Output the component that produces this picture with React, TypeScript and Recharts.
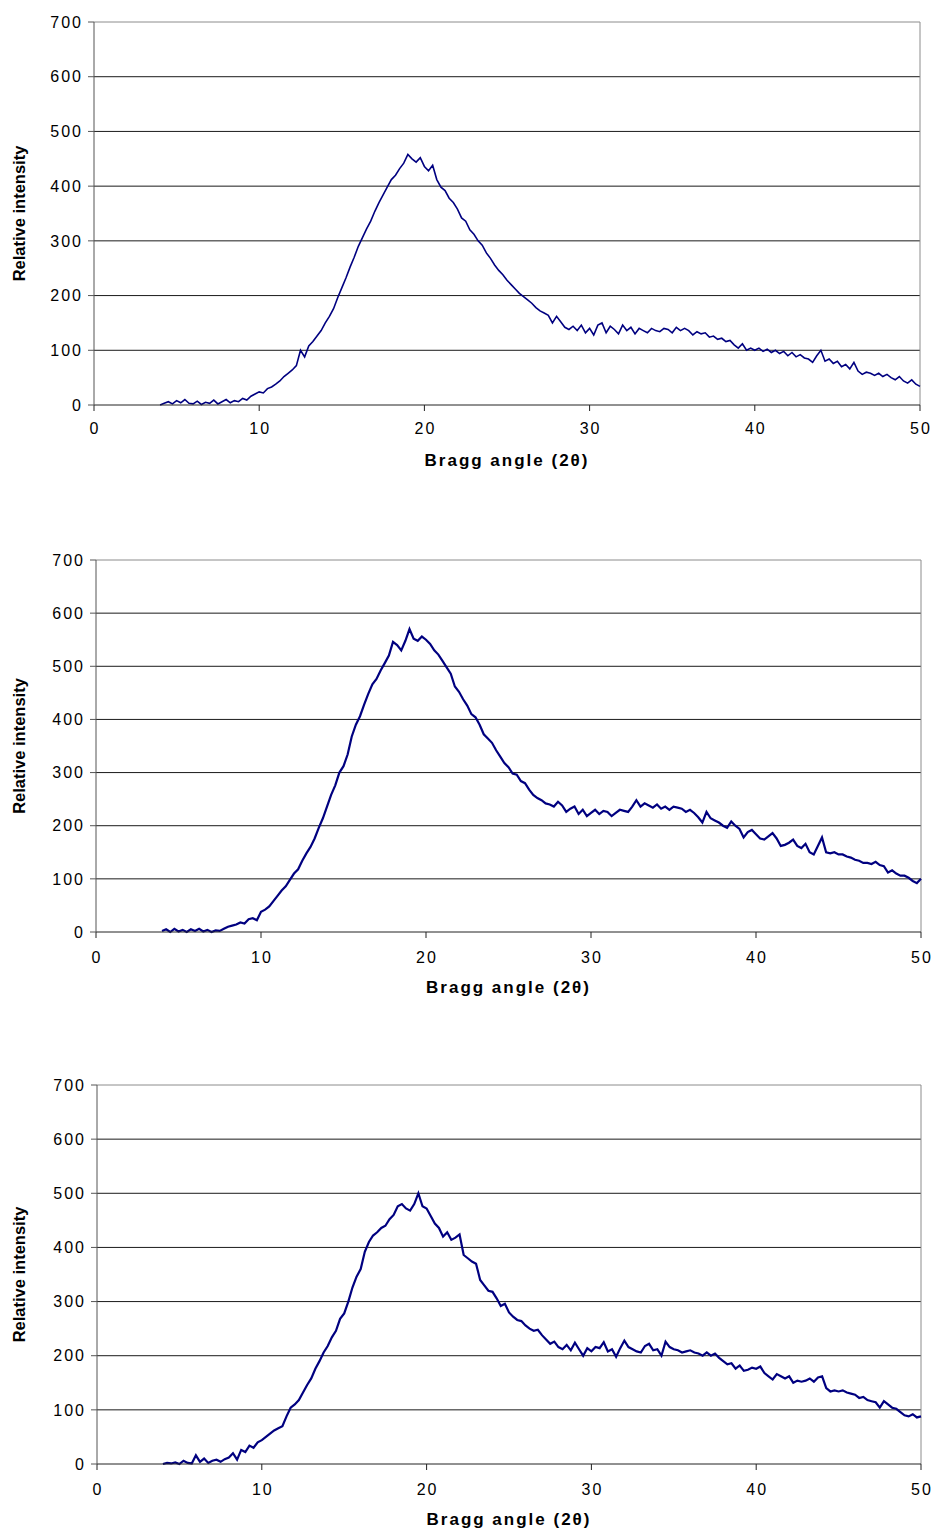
import { LineChart, Line, XAxis, YAxis, CartesianGrid, ReferenceLine } from "recharts";

// 2θ sampling grid, 4° to 50° every 0.25°
const angles = Array.from({ length: 185 }, (_, i) => 4 + i * 0.25);

const xTicks = [0, 10, 20, 30, 40, 50];
const yTicks = [0, 100, 200, 300, 400, 500, 600, 700];
const gridValues = [100, 200, 300, 400, 500, 600];

// intensities (one row per degree)
const intensityTop = [
  0, 3, 6, 2,
  8, 4, 10, 3,
  2, 7, 1, 5,
  3, 9, 2, 6,
  10, 4, 8, 6,
  12, 9, 16, 20,
  24, 22, 30, 33,
  38, 44, 52, 58,
  64, 72, 100, 88,
  108, 116, 126, 136,
  150, 162, 176, 196,
  214, 232, 252, 270,
  290, 306, 322, 336,
  354, 370, 384, 398,
  412, 420, 432, 442,
  458, 450, 444, 452,
  436, 428, 438, 412,
  398, 392, 378, 370,
  358, 342, 336, 320,
  312, 300, 292, 278,
  268, 256, 246, 238,
  228, 220, 212, 204,
  198, 192, 186, 178,
  172, 168, 164, 150,
  162, 152, 142, 138,
  144, 136, 146, 132,
  140, 128, 146, 150,
  132, 144, 138, 130,
  146, 136, 142, 130,
  140, 136, 132, 140,
  136, 134, 140, 138,
  132, 142, 136, 140,
  136, 128, 134, 130,
  132, 124, 126, 120,
  122, 116, 118, 110,
  104, 112, 100, 104,
  100, 104, 98, 102,
  96, 100, 94, 98,
  90, 96, 88, 92,
  86, 84, 78, 90,
  100, 80, 84, 76,
  80, 70, 74, 66,
  78, 62, 56, 60,
  58, 54, 58, 52,
  56, 50, 46, 52,
  44, 40, 46, 38,
  34,
];

const intensityMiddle = [
  2, 5, 0, 6,
  1, 4, 0, 5,
  2, 6, 1, 4,
  0, 3, 2, 6,
  10, 12, 14, 18,
  16, 24, 26, 22,
  38, 42, 48, 58,
  68, 78, 86, 98,
  110, 118, 134, 148,
  160, 176, 196, 214,
  236, 258, 276, 300,
  312, 334, 368, 390,
  406, 428, 448, 466,
  476, 492, 506, 520,
  546, 540, 530, 548,
  570, 552, 548, 556,
  550, 542, 530, 522,
  510, 498, 486, 462,
  452, 438, 426, 410,
  404, 390, 372, 364,
  356, 342, 330, 318,
  310, 298, 296, 284,
  280, 268, 258, 252,
  248, 242, 240, 236,
  245, 238, 226, 232,
  236, 222, 230, 218,
  224, 230, 222, 228,
  226, 218, 224, 230,
  228, 226, 236, 248,
  236, 242, 238, 234,
  240, 232, 236, 230,
  236, 234, 232, 226,
  230, 224, 216, 206,
  226, 214, 210, 206,
  200, 196, 208, 200,
  194, 178, 188, 192,
  184, 176, 174, 180,
  186, 176, 162, 164,
  168, 174, 162, 158,
  166, 150, 146, 162,
  178, 150, 148, 150,
  146, 146, 142, 140,
  136, 134, 130, 130,
  128, 132, 126, 124,
  112, 116, 110, 106,
  106, 102, 96, 92,
  100,
];

const intensityBottom = [
  0, 2, 1, 3,
  0, 6, 2, 1,
  16, 4, 10, 2,
  6, 8, 4, 9,
  12, 20, 8, 26,
  22, 34, 30, 40,
  44, 50, 56, 62,
  66, 70, 88, 104,
  110, 118, 132, 146,
  158, 176, 190, 206,
  218, 234, 246, 268,
  278, 300, 326, 346,
  360, 392, 410, 422,
  428, 436, 440, 452,
  460, 476, 480, 472,
  468, 480, 500, 476,
  472, 458, 444, 436,
  420, 428, 414, 418,
  424, 386, 380, 374,
  370, 340, 330, 320,
  318, 306, 292, 296,
  280, 272, 266, 264,
  256, 250, 246, 248,
  238, 230, 222, 226,
  216, 212, 220, 210,
  224, 212, 200, 214,
  208, 216, 214, 225,
  208, 212, 198, 214,
  228, 216, 212, 208,
  206, 218, 222, 210,
  212, 200, 226, 216,
  212, 210, 206, 208,
  210, 206, 204, 200,
  206, 200, 204, 196,
  190, 184, 186, 176,
  182, 172, 174, 178,
  176, 180, 168, 162,
  156, 166, 162, 158,
  162, 150, 154, 152,
  154, 158, 152, 160,
  162, 140, 134, 136,
  134, 136, 132, 130,
  128, 122, 124, 118,
  116, 114, 104, 116,
  110, 104, 102, 96,
  90, 88, 92, 86,
  88,
];

const FONT = '"Liberation Sans", Arial, sans-serif';
const TICK_SPACING = 2;

const XTick = ({ x, y, payload }: any) => (
  <text x={x} y={y} dy="0.71em" dx={TICK_SPACING / 2} textAnchor="middle" fontSize={16} fill="#000" fontFamily={FONT} letterSpacing={TICK_SPACING}>
    {payload.value}
  </text>
);

const YTick = ({ x, y, payload }: any) => (
  <text x={x} y={y} dy="0.355em" dx={TICK_SPACING} textAnchor="end" fontSize={16} fill="#000" fontFamily={FONT} letterSpacing={TICK_SPACING}>
    {payload.value}
  </text>
);

function Diffractogram({
  values,
  top,
  plotHeight,
  axisWidth,
  rightGap,
  tickGap,
  lineWidth,
}: {
  values: number[];
  top: number;
  plotHeight: number;
  axisWidth: number;
  rightGap: number;
  tickGap: number;
  lineWidth: number;
}) {
  const data = angles.map((angle, i) => ({ angle, value: values[i] }));
  return (
    <div style={{ position: "absolute", left: 0, top }}>
      <LineChart
        width={935}
        height={22 + plotHeight + 64}
        data={data}
        margin={{ top: 22, right: rightGap, left: 0, bottom: 0 }}
      >
        <CartesianGrid horizontal vertical={false} horizontalValues={gridValues} stroke="#1a1a1a" />
        <ReferenceLine y={700} stroke="#8c8c8c" ifOverflow="visible" />
        <ReferenceLine x={50} stroke="#8c8c8c" ifOverflow="visible" />
        <XAxis
          dataKey="angle"
          type="number"
          domain={[0, 50]}
          ticks={xTicks}
          tickSize={6}
          tickMargin={tickGap}
          height={64}
          stroke="#222"
          tick={<XTick />}
          label={{
            value: "Bragg angle (2θ)",
            position: "insideBottom",
            offset: 3,
            style: { fontFamily: FONT, fontWeight: "bold", fontSize: 17, fill: "#000", letterSpacing: "2px" },
          }}
        />
        <YAxis
          type="number"
          domain={[0, 700]}
          ticks={yTicks}
          tickSize={6}
          tickMargin={7}
          width={axisWidth}
          stroke="#555"
          tick={<YTick />}
          label={{
            value: "Relative intensity",
            angle: -90,
            position: "insideLeft",
            offset: 19,
            style: { fontFamily: FONT, fontWeight: "bold", fontSize: 16.5, fill: "#000", textAnchor: "middle" },
          }}
        />
        <Line
          type="linear"
          dataKey="value"
          stroke="#000080"
          strokeWidth={lineWidth}
          dot={false}
          isAnimationActive={false}
        />
      </LineChart>
    </div>
  );
}

export default function App() {
  return (
    <div style={{ position: "absolute", left: 0, top: 0, width: 935, height: 1528, background: "#fff", overflow: "hidden" }}>
      <Diffractogram values={intensityTop} top={0} plotHeight={383} axisWidth={94} rightGap={15} tickGap={12} lineWidth={1.6} />
      <Diffractogram values={intensityMiddle} top={538} plotHeight={372} axisWidth={96} rightGap={14} tickGap={14} lineWidth={2.2} />
      <Diffractogram values={intensityBottom} top={1063} plotHeight={379} axisWidth={97} rightGap={14} tickGap={14} lineWidth={2.2} />
    </div>
  );
}
